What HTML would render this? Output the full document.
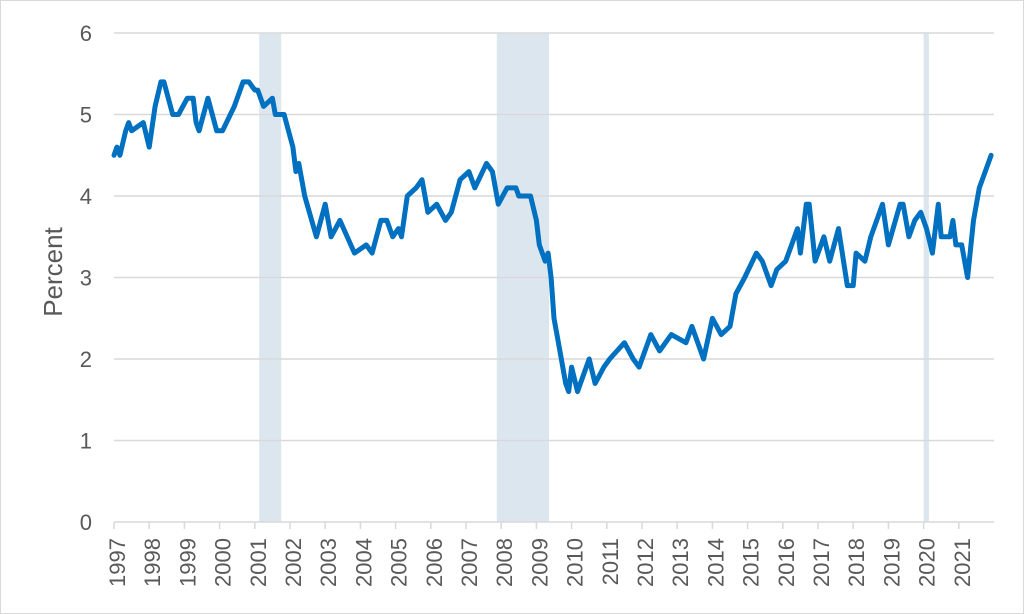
<!DOCTYPE html>
<html><head><meta charset="utf-8"><style>
html,body{margin:0;padding:0;background:#fff;}
svg{display:block;font-family:"Liberation Sans",sans-serif;}
</style></head><body>
<svg id="chart" width="1024" height="614">
<rect x="0.5" y="0.5" width="1023" height="613" fill="#fff" stroke="#d9d9d9"/>
<g id="shade"></g><g id="grid"></g><g id="axes"></g><g id="series"></g>
<text x="0" y="0" transform="translate(62,272) rotate(-90)" text-anchor="middle" font-size="26" fill="#595959">Percent</text>
</svg>
<script>
const months=[0,1,2,4,5,6,10,12,14,16,17,20,22,25,27,28,29,32,35,37,41,44,46,48,49,51,54,55,58,61,62,63,65,69,72,74,77,82,86,88,91,93,95,97,98,100,103,105,107,110,113,115,118,121,123,127,129,131,134,137,138,142,144,145,147,148,149,150,152,154,155,156,158,162,164,167,169,174,177,179,182,183,186,190,195,197,201,204,207,210,212,215,219,221,224,226,229,233,234,236,237,239,242,244,247,250,252,253,256,258,262,264,268,269,271,273,275,277,279,281,282,285,286,287,289,291,293,295,296,299];
const values=[4.5,4.6,4.5,4.8,4.9,4.8,4.9,4.6,5.1,5.4,5.4,5.0,5.0,5.2,5.2,4.9,4.8,5.2,4.8,4.8,5.1,5.4,5.4,5.3,5.3,5.1,5.2,5.0,5.0,4.6,4.3,4.4,4.0,3.5,3.9,3.5,3.7,3.3,3.4,3.3,3.7,3.7,3.5,3.6,3.5,4.0,4.1,4.2,3.8,3.9,3.7,3.8,4.2,4.3,4.1,4.4,4.3,3.9,4.1,4.1,4.0,4.0,3.7,3.4,3.2,3.3,3.0,2.5,2.1,1.7,1.6,1.9,1.6,2.0,1.7,1.9,2.0,2.2,2.0,1.9,2.2,2.3,2.1,2.3,2.2,2.4,2.0,2.5,2.3,2.4,2.8,3.0,3.3,3.2,2.9,3.1,3.2,3.6,3.3,3.9,3.9,3.2,3.5,3.2,3.6,2.9,2.9,3.3,3.2,3.5,3.9,3.4,3.9,3.9,3.5,3.7,3.8,3.6,3.3,3.9,3.5,3.5,3.7,3.4,3.4,3.0,3.7,4.1,4.2,4.5];
const yearLabels=["1997","1998","1999","2000","2001","2002","2003","2004","2005","2006","2007","2008","2009","2010","2011","2012","2013","2014","2015","2016","2017","2018","2019","2020","2021"];
const yTicks=[0,1,2,3,4,5,6];
const recessionStarts=[49.5,130.5,276];
const recessionEnds=[57,148.3,277.8];
const NS="http://www.w3.org/2000/svg";
const X0=114,X1=994,Y0=522,Y6=33;
const xs=m=>X0+(X1-X0)*m/300;
const ys=v=>Y0-(Y0-Y6)*v/6;
function mk(tag,attrs,parent){const e=document.createElementNS(NS,tag);for(const k in attrs)e.setAttribute(k,attrs[k]);parent.appendChild(e);return e;}
const shade=document.getElementById('shade'),grid=document.getElementById('grid'),axes=document.getElementById('axes'),series=document.getElementById('series');
recessionStarts.forEach((s,i)=>{const r=mk('rect',{x:xs(s),y:Y6,width:xs(recessionEnds[i])-xs(s),height:Y0-Y6,fill:'#dce6ef'},shade);

});
yTicks.forEach(t=>{
 if(t>0){const l=mk('line',{x1:X0,x2:X1,y1:ys(t),y2:ys(t),stroke:'#d9d9d9','stroke-width':1.5},grid);
 
 }
 const tx=mk('text',{x:92,y:ys(t)+8,'text-anchor':'end','font-size':22,fill:'#595959'},axes);tx.textContent=t;
 
 
});
const ax=mk('line',{x1:X0,x2:X1,y1:Y0,y2:Y0,stroke:'#d9d9d9','stroke-width':1.5},axes);


yearLabels.forEach((y,i)=>{const x=xs(i*12);
 const tk=mk('line',{x1:x,x2:x,y1:Y0,y2:Y0+7,stroke:'#d9d9d9','stroke-width':1.5},axes);
 
 
 const t=mk('text',{x:0,y:0,transform:`translate(${x+11},${Y0+16}) rotate(-90)`,'text-anchor':'end','font-size':22,fill:'#595959'},axes);t.textContent=y;
 
 
});
const d=months.map((m,i)=>(i?'L':'M')+xs(m).toFixed(1)+','+ys(values[i]).toFixed(1)).join('');
const p=mk('path',{d:d,fill:'none',stroke:'#0070c0','stroke-width':5,'stroke-linejoin':'round','stroke-linecap':'round'},series);


</script>
</body></html>
